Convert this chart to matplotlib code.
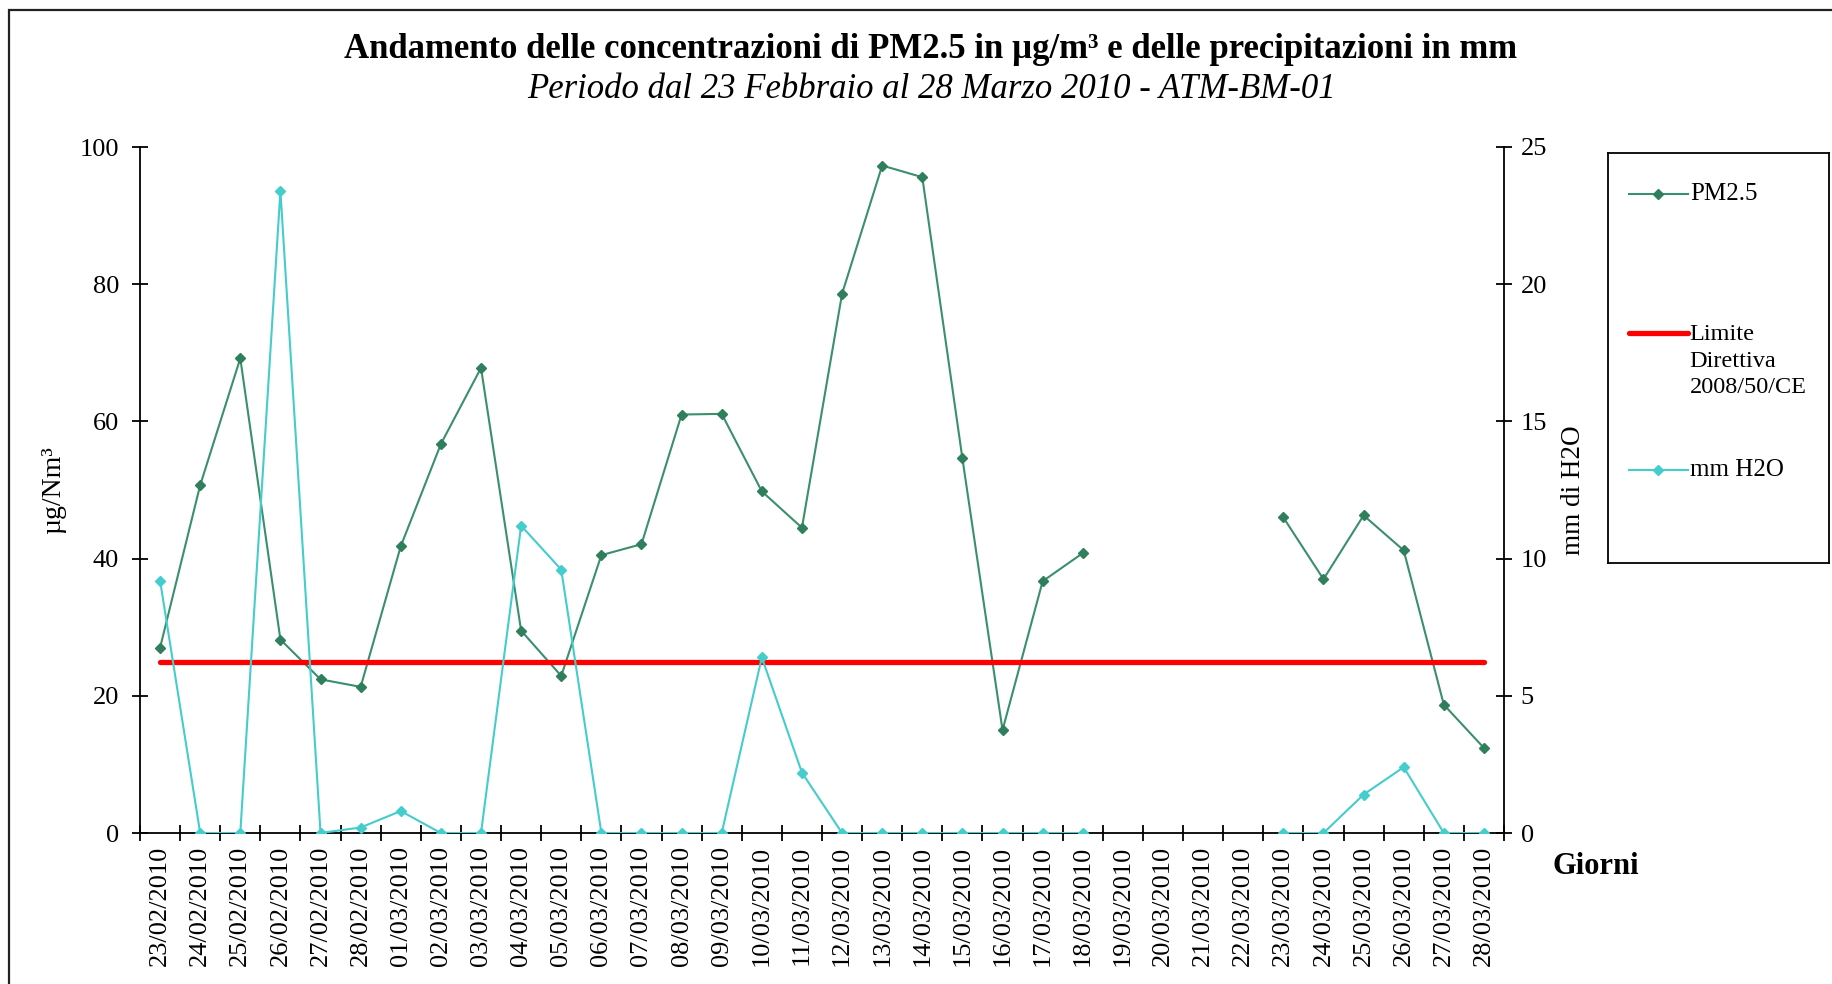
import numpy as np
import matplotlib

matplotlib.use('Agg')
import matplotlib.pyplot as plt
from matplotlib.patches import Rectangle

plt.rcParams['font.family'] = ['Liberation Serif', 'DejaVu Serif']

# --- data ---
dates = (
    [f'{d:02d}/02/2010' for d in range(23, 29)]
    + [f'{d:02d}/03/2010' for d in range(1, 29)]
)
pm25 = [27.0, 50.7, 69.2, 28.2, 22.4, 21.3, 41.8, 56.7, 67.8, 29.5,
        22.9, 40.5, 42.1, 61.0, 61.1, 49.8, 44.5, 78.6, 97.3, 95.6,
        54.6, 15.0, 36.7, 40.8, np.nan, np.nan, np.nan, np.nan,
        46.0, 37.0, 46.3, 41.2, 18.7, 12.4]
rain_mm = [9.2, 0.0, 0.0, 23.4, 0.0, 0.2, 0.8, 0.0, 0.0, 11.2,
           9.6, 0.0, 0.0, 0.0, 0.0, 6.4, 2.2, 0.0, 0.0, 0.0,
           0.0, 0.0, 0.0, 0.0, np.nan, np.nan, np.nan, np.nan,
           0.0, 0.0, 1.4, 2.4, 0.0, 0.0]
limit_value = 25

GREEN = '#3a8f6c'
CYAN = '#45cccc'
RED = '#ff0000'

W, H = 1832, 984
fig = plt.figure(figsize=(W / 100, H / 100), dpi=100)

# chart-area frame (left/top visible, right/bottom run off the image)
fig.patches.append(Rectangle((9 / W, -0.1), 1.2, 1 - 10 / H + 0.1,
                             transform=fig.transFigure, fill=False,
                             edgecolor='#222222', linewidth=1.6))

ax = fig.add_axes([140 / W, 1 - 833 / H, 1364 / W, 686 / H])
x = np.arange(len(dates))

ax.plot(x, pm25, color=GREEN, lw=1.5, marker='D', ms=5.5,
        mfc='#2f7f5c', mec='#2f7f5c', zorder=2)
ax.plot(x, [limit_value] * len(x), color=RED, lw=3.8,
        solid_capstyle='round', zorder=3)

ax.set_xlim(-0.5, len(x) - 0.5)
ax.set_ylim(0, 100)
ax.set_yticks(np.arange(0, 101, 20))
ax.set_xticks(x)
ax.set_xticklabels(dates, rotation=90, fontsize=19)
ax.set_xticks(np.arange(-0.5, len(x), 1), minor=True)
ax.tick_params(axis='x', which='major', length=0, pad=9)
ax.tick_params(axis='x', which='minor', direction='inout', length=12, width=1.3)
ax.tick_params(axis='y', direction='inout', length=12, width=1.3,
               labelsize=19, pad=9)
ax.spines['top'].set_visible(False)
ax.spines['right'].set_visible(False)
for s in ('left', 'bottom'):
    ax.spines[s].set_linewidth(1.3)
ax.set_ylabel('µg/Nm³', fontsize=20, labelpad=10)

ax2 = ax.twinx()
ax2.plot(x, rain_mm, color=CYAN, lw=1.5, marker='D', ms=5.5,
         mfc=CYAN, mec=CYAN, zorder=4)
ax2.set_ylim(0, 25)
ax2.set_yticks(np.arange(0, 26, 5))
ax2.tick_params(axis='y', direction='inout', length=12, width=1.3,
                labelsize=19, pad=6)
ax2.spines['top'].set_visible(False)
ax2.spines['left'].set_visible(False)
ax2.spines['bottom'].set_visible(False)
ax2.spines['right'].set_linewidth(1.3)
ax2.set_ylabel('mm di H2O', fontsize=19.5, labelpad=10)

fig.text(1553 / W, 1 - 866 / H, 'Giorni', fontsize=22, fontweight='bold',
         ha='left', va='center')

fig.text(931 / W, 1 - 50 / H,
         'Andamento delle concentrazioni di PM2.5 in µg/m³ e delle precipitazioni in mm',
         fontsize=25, fontweight='bold', ha='center', va='center')
fig.text(931 / W, 1 - 89 / H,
         'Periodo dal 23 Febbraio al 28 Marzo 2010 - ATM-BM-01',
         fontsize=25, style='italic', ha='center', va='center')

# legend box
lax = fig.add_axes([1608 / W, 1 - 563 / H, 221 / W, 410 / H])
lax.set_xlim(0, 1)
lax.set_ylim(0, 1)
lax.set_xticks([])
lax.set_yticks([])
for s in lax.spines.values():
    s.set_linewidth(1.3)
hx = [0.095, 0.362]
lax.plot(hx, [0.9, 0.9], color=GREEN, lw=1.5)
lax.plot([np.mean(hx)], [0.9], marker='D', ms=5.5, color='#2f7f5c')
lax.plot(hx, [0.561, 0.561], color=RED, lw=3.8, solid_capstyle='round')
lax.plot(hx, [0.227, 0.227], color=CYAN, lw=1.5)
lax.plot([np.mean(hx)], [0.227], marker='D', ms=5.5, color=CYAN)
lax.text(0.37, 0.9, 'PM2.5', fontsize=18, va='center')
lax.text(0.37, 0.583, 'Limite\nDirettiva\n2008/50/CE', fontsize=17.5,
         va='top', linespacing=1.35)
lax.text(0.37, 0.227, 'mm H2O', fontsize=18, va='center')

fig.savefig('out.png', dpi=100)
